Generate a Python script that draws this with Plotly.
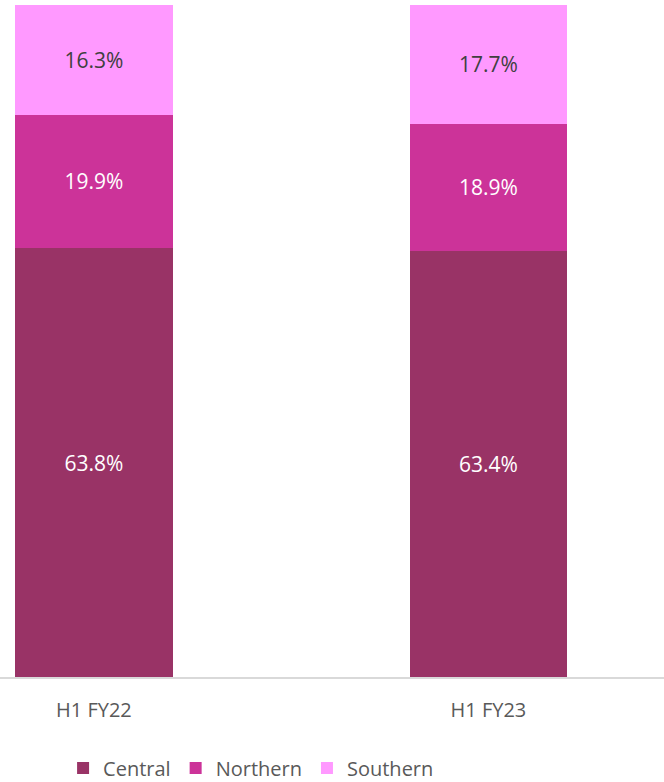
import plotly.graph_objects as go

categories = ["H1 FY22", "H1 FY23"]
central = [63.8, 63.4]
northern = [19.9, 18.9]
southern = [16.3, 17.7]

series = [
    ("Central", central, "#993366", "white"),
    ("Northern", northern, "#CC3399", "white"),
    ("Southern", southern, "#FF99FF", "#404040"),
]

FONT = "Open Sans"
fig = go.Figure()
for name, vals, color, tcolor in series:
    fig.add_trace(go.Bar(
        name=name, x=categories, y=vals,
        marker=dict(color=color, line=dict(width=0)),
        width=0.4,
        text=[f"{v:.1f}%" for v in vals],
        textposition="inside", insidetextanchor="middle",
        textfont=dict(family=FONT, size=21, color=tcolor),
        constraintext="none",
    ))

fig.update_layout(
    barmode="stack",
    width=664, height=782,
    margin=dict(l=0, r=0, t=5, b=105, autoexpand=False),
    plot_bgcolor="white", paper_bgcolor="white",
    showlegend=True,
    legend=dict(orientation="h", x=0.095, xanchor="left",
                yref="container", y=0.018, yanchor="middle",
                font=dict(family=FONT, size=20, color="#595959"),
                itemwidth=30, traceorder="normal"),
    xaxis=dict(range=[-0.238, 1.445], showgrid=False, showline=True,
               linecolor="#D9D9D9", linewidth=2, ticks="",
               tickfont=dict(family=FONT, size=20, color="#595959"),
               ticklabelstandoff=14),
    yaxis=dict(range=[0, 100], visible=False, showgrid=False),
)

fig.write_html("out.html", config={"displayModeBar": False},
               post_script="document.body.style.margin='0';")
